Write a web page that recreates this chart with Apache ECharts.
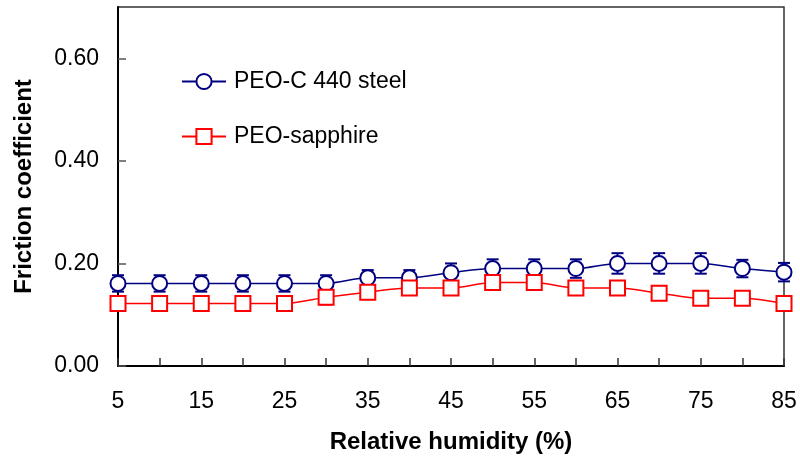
<!DOCTYPE html>
<html>
<head>
<meta charset="utf-8">
<script src="https://cdn.jsdelivr.net/npm/echarts@6/dist/echarts.min.js"></script>
<style>
    html, body { margin: 0; padding: 0; background: #fff; }
    #chart { width: 800px; height: 459px; }
</style>
</head>
<body>
<div id="chart"></div>
<script>
// Relative humidity (%) points
var humidity = [5, 10, 15, 20, 25, 30, 35, 40, 45, 50, 55, 60, 65, 70, 75, 80, 85];

// PEO-C 440 steel friction coefficient and error
var steelMean = [0.161, 0.161, 0.161, 0.161, 0.161, 0.161, 0.172, 0.172, 0.182, 0.190, 0.190, 0.190, 0.200, 0.200, 0.200, 0.190, 0.183];
var steelErr  = [0.016, 0.016, 0.016, 0.016, 0.016, 0.016, 0.015, 0.015, 0.018, 0.018, 0.018, 0.018, 0.020, 0.020, 0.020, 0.017, 0.018];

// PEO-sapphire friction coefficient and error
var sapphireMean = [0.122, 0.122, 0.122, 0.122, 0.122, 0.134, 0.144, 0.152, 0.152, 0.163, 0.163, 0.152, 0.152, 0.142, 0.132, 0.132, 0.122];
var sapphireErr  = [0.010, 0.010, 0.010, 0.010, 0.010, 0.014, 0.013, 0.013, 0.013, 0.013, 0.013, 0.013, 0.013, 0.013, 0.013, 0.013, 0.010];

var navy = '#000080';
var red = '#ff0000';
var font = 'Arial, "Liberation Sans", sans-serif';

function pairs(xs, ys) {
    return xs.map(function(x, i) { return [x, ys[i]]; });
}

function errRows(xs, ys, es) {
    return xs.map(function(x, i) { return [x, ys[i] - es[i], ys[i] + es[i]]; });
}

// draws a vertical bar with caps for each point
function errorBar(color) {
    return function(params, api) {
        var lo = api.coord([api.value(0), api.value(1)]);
        var hi = api.coord([api.value(0), api.value(2)]);
        var w = 6;
        var style = { stroke: color, lineWidth: 2 };
        return {
            type: 'group',
            children: [
                { type: 'line', shape: { x1: lo[0], y1: lo[1], x2: hi[0], y2: hi[1] }, style: style },
                { type: 'line', shape: { x1: lo[0] - w, y1: lo[1], x2: lo[0] + w, y2: lo[1] }, style: style },
                { type: 'line', shape: { x1: hi[0] - w, y1: hi[1], x2: hi[0] + w, y2: hi[1] }, style: style }
            ]
        };
    };
}

var chart = echarts.init(document.getElementById('chart'));
chart.setOption({
    animation: false,
    grid: {
        left: 118, right: 16, top: 7, bottom: 93,
        show: true, borderColor: '#333', borderWidth: 1.5
    },
    legend: {
        left: 176, top: 65,
        orient: 'vertical',
        itemWidth: 44, itemHeight: 19,
        itemGap: 32,
        textStyle: { fontFamily: font, fontSize: 23, color: '#000', padding: [0, 0, 0, 3] },
        data: ['PEO-C 440 steel', 'PEO-sapphire']
    },
    xAxis: {
        type: 'value',
        min: 5, max: 85, interval: 5,
        name: 'Relative humidity (%)',
        nameLocation: 'middle',
        nameGap: 64,
        nameTextStyle: { fontFamily: font, fontSize: 24, fontWeight: 'bold', color: '#000' },
        axisLine: { lineStyle: { color: '#000', width: 2 } },
        axisTick: { inside: true, length: 8, lineStyle: { color: '#333', width: 1.5 } },
        axisLabel: {
            margin: 24,
            fontFamily: font, fontSize: 23, color: '#000',
            formatter: function(v) { return (v - 5) % 10 === 0 ? String(v) : ''; }
        },
        splitLine: { show: false }
    },
    yAxis: {
        type: 'value',
        min: 0, max: 0.7, interval: 0.2,
        name: 'Friction coefficient',
        nameLocation: 'middle',
        nameGap: 82,
        nameTextStyle: { fontFamily: font, fontSize: 24, fontWeight: 'bold', color: '#000' },
        axisLine: { show: true, lineStyle: { color: '#000', width: 2 } },
        axisTick: { inside: true, length: 8, lineStyle: { color: '#555', width: 1.5 } },
        axisLabel: {
            margin: 19,
            showMaxLabel: false,
            fontFamily: font, fontSize: 23, color: '#000',
            formatter: function(v) { return v.toFixed(2); }
        },
        splitLine: { show: false }
    },
    series: [
        {
            type: 'custom',
            name: 'steelErr',
            renderItem: errorBar(navy),
            data: errRows(humidity, steelMean, steelErr),
            z: 1
        },
        {
            type: 'custom',
            name: 'sapphireErr',
            renderItem: errorBar(red),
            data: errRows(humidity, sapphireMean, sapphireErr),
            z: 1
        },
        {
            name: 'PEO-C 440 steel',
            type: 'line',
            smooth: 0.3,
            data: pairs(humidity, steelMean),
            symbol: 'circle',
            symbolSize: 15,
            lineStyle: { color: navy, width: 1.5 },
            itemStyle: { color: '#fff', borderColor: navy, borderWidth: 2 },
            z: 3
        },
        {
            name: 'PEO-sapphire',
            type: 'line',
            smooth: 0.3,
            data: pairs(humidity, sapphireMean),
            symbol: 'rect',
            symbolSize: 15,
            lineStyle: { color: red, width: 1.5 },
            itemStyle: { color: '#fff', borderColor: red, borderWidth: 2 },
            z: 3
        }
    ]
});
</script>
</body>
</html>
